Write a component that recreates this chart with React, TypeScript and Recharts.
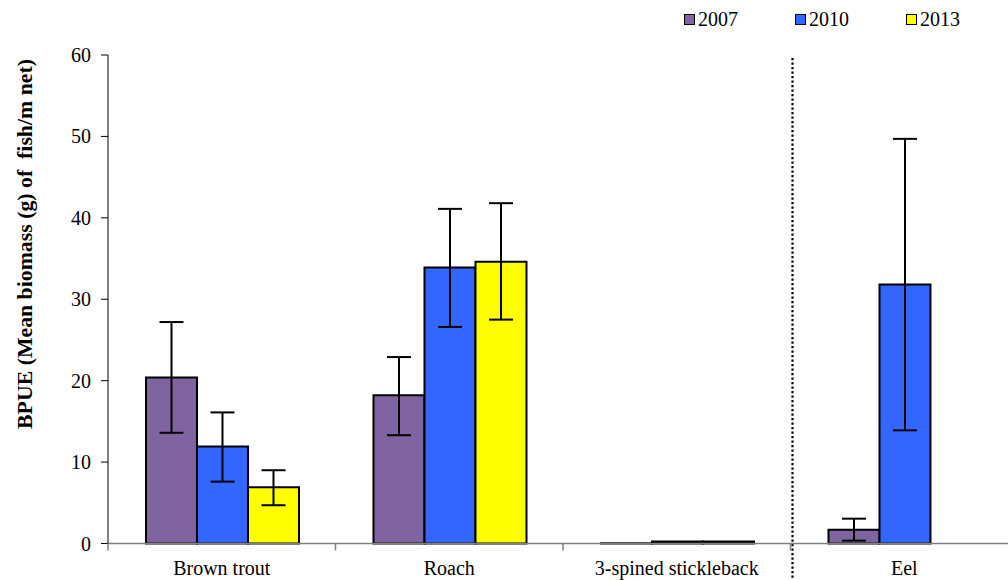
import React from 'react';
import { BarChart, Bar, XAxis, YAxis, ErrorBar, ReferenceLine } from 'recharts';

// Species groups on the category axis
const species = ['Brown trout', 'Roach', '3-spined stickleback', 'Eel'];
const years = ['2007', '2010', '2013'];
const yearColors = ['#8064A2', '#3366FF', '#FFFF00'];

// Mean BPUE per species, with the lower/upper ends of each error bar
const mean2007 = [20.4, 18.2, 0.03, 1.7];
const lower2007 = [13.6, 13.3, null, 0.35];
const upper2007 = [27.2, 22.9, null, 3.05];

const mean2010 = [11.9, 33.9, 0.25, 31.8];
const lower2010 = [7.6, 26.6, null, 13.9];
const upper2010 = [16.1, 41.1, null, 49.7];

const mean2013 = [6.9, 34.6, 0.25, 0];
const lower2013 = [4.7, 27.5, null, 0];
const upper2013 = [9.0, 41.8, null, 0.15];

const yTicks = [0, 10, 20, 30, 40, 50, 60];

const SERIF = 'Liberation Serif';
const textStyle = { fontFamily: SERIF };

const spread = (m: number, lo: number | null, hi: number | null) =>
  lo == null || hi == null ? null : [m - lo, hi - m];

const rows = species.map((name, i) => ({
  name,
  y2007: mean2007[i],
  e2007: spread(mean2007[i], lower2007[i], upper2007[i]),
  y2010: mean2010[i],
  e2010: spread(mean2010[i], lower2010[i], upper2010[i]),
  y2013: mean2013[i],
  e2013: spread(mean2013[i], lower2013[i], upper2013[i]),
}));

// Category label centred in its band, with a tick mark at the band's left edge
function SpeciesTick(props: any) {
  const { x, y, payload } = props;
  const half = payload && typeof payload.offset === 'number' ? payload.offset : 0;
  const axisY = y - 7;
  return (
    <g>
      <line x1={x - half} x2={x - half} y1={axisY} y2={axisY + 7} stroke="#808080" strokeWidth={1.5} />
      <text x={x} y={axisY + 31.5} textAnchor="middle" fontSize={20} fontFamily={SERIF} style={textStyle} fill="#000">
        {payload.value}
      </text>
    </g>
  );
}

function ValueTick(props: any) {
  const { x, y, payload } = props;
  return (
    <text x={x} y={y} dy="0.35em" textAnchor="end" fontSize={20} fontFamily={SERIF} style={textStyle} fill="#000">
      {payload.value}
    </text>
  );
}

function YTitle(props: any) {
  const vb = props.viewBox || { x: 0, y: 0 };
  const cx = vb.x + 25;
  const cy = vb.y + 189;
  return (
    <text
      x={cx}
      y={cy}
      transform={`rotate(-90 ${cx} ${cy})`}
      textAnchor="middle"
      dominantBaseline="central"
      fontSize={21.8}
      fontWeight="bold"
      fontFamily={SERIF}
      fill="#000"
      style={{ whiteSpace: 'pre', fontFamily: SERIF }}
    >
      {'BPUE (Mean biomass (g) of  fish/m net)'}
    </text>
  );
}

// Dotted separator drawn at the left edge of the Eel band
function Separator(props: any) {
  const top = Math.min(props.y1, props.y2);
  const bottom = Math.max(props.y1, props.y2);
  const x = props.x1 + 2;
  return <line x1={x} x2={x} y1={top + 3} y2={bottom + 40} stroke="#000" strokeWidth={2.2} strokeDasharray="2.2 2.3" />;
}

function YearLegend() {
  return (
    <div
      style={{
        position: 'absolute',
        top: 9,
        left: 684,
        display: 'flex',
        fontFamily: SERIF,
        fontSize: 20,
        lineHeight: '20px',
        color: '#000',
      }}
    >
      {years.map((yr, i) => (
        <div key={yr} style={{ display: 'flex', alignItems: 'center', width: 111 }}>
          <span
            style={{
              display: 'inline-block',
              width: 11,
              height: 11,
              boxSizing: 'border-box',
              border: '1.8px solid #000',
              background: yearColors[i],
              marginRight: 3,
            }}
          />
          <span>{yr}</span>
        </div>
      ))}
    </div>
  );
}

export default function App() {
  return (
    <div style={{ position: 'absolute', left: 0, top: 0, width: 1008, height: 580, overflow: 'hidden', background: '#fff', fontFamily: SERIF }}>
      <BarChart
        width={1030}
        height={580}
        data={rows}
        margin={{ top: 55, right: 12, bottom: 0, left: 0 }}
        barCategoryGap="16.7%"
        barGap={0}
        style={{ fontFamily: SERIF }}
      >
        <XAxis
          dataKey="name"
          height={36.5}
          axisLine={{ stroke: '#808080', strokeWidth: 1.5 }}
          tickLine={false}
          tickSize={7}
          tickMargin={0}
          tick={<SpeciesTick />}
          interval={0}
        />
        <YAxis
          width={108}
          domain={[0, 60]}
          ticks={yTicks}
          interval={0}
          axisLine={{ stroke: '#000', strokeWidth: 1 }}
          tickLine={{ stroke: '#000', strokeWidth: 1 }}
          tickSize={7}
          tickMargin={10}
          tick={<ValueTick />}
          label={{ content: (p: any) => <YTitle {...p} /> }}
        />
        <ReferenceLine x="Eel" position="start" stroke="#000" shape={(p: any) => <Separator {...p} />} />
        <Bar dataKey="y2007" name="2007" fill={yearColors[0]} stroke="#000" strokeWidth={2} isAnimationActive={false}>
          <ErrorBar dataKey="e2007" width={12} stroke="#000" strokeWidth={2} />
        </Bar>
        <Bar dataKey="y2010" name="2010" fill={yearColors[1]} stroke="#000" strokeWidth={2} isAnimationActive={false}>
          <ErrorBar dataKey="e2010" width={12} stroke="#000" strokeWidth={2} />
        </Bar>
        <Bar dataKey="y2013" name="2013" fill={yearColors[2]} stroke="#000" strokeWidth={2} isAnimationActive={false}>
          <ErrorBar dataKey="e2013" width={12} stroke="#000" strokeWidth={2} />
        </Bar>
      </BarChart>
      <YearLegend />
    </div>
  );
}
